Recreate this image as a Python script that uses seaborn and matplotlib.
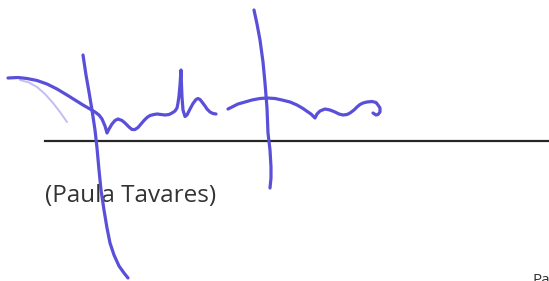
import numpy as np
import pandas as pd
import matplotlib
matplotlib.use("Agg")
import matplotlib.pyplot as plt
import seaborn as sns

# signature strokes, image pixel coordinates (x right, y down)
swoosh_x = [8, 18, 27, 37, 47, 57, 67, 75, 83, 90, 95, 99, 102, 105, 107, 109, 112, 115, 118, 122, 125, 129, 132,
            135, 138, 141, 144, 147, 150, 154, 157, 161, 165, 169, 172, 175, 177, 178, 179, 180, 181,
            181.5, 182, 183, 185, 187, 190, 193, 196, 198, 200, 202, 205, 207, 210, 213, 216]
swoosh_y = [78, 77.5, 78.5, 80.5, 84, 89, 95, 100, 105, 109, 112, 115, 119, 126, 133, 129, 124, 120.5, 119, 120.5,
            123, 127, 129.5, 129.5, 127.5, 124, 120.5, 117.5, 115.5, 114.5, 114, 114.5, 115, 114.5, 113, 111, 108,
            103, 96, 85, 70, 85, 97, 110, 116.5, 115, 109, 103.5, 99.5, 98.5, 99.5, 102, 106, 109, 112, 113.5, 114]

left_bar_x = [83, 86, 89, 92, 95, 97, 99, 101, 104, 107, 110, 114, 119, 124, 128]
left_bar_y = [55, 75, 92, 110, 130, 148, 170, 190, 210, 228, 243, 255, 266, 273, 278]

right_bar_x = [254, 257, 260, 263, 265, 267, 268, 270, 271, 271, 270]
right_bar_y = [10, 24, 40, 62, 83, 108, 133, 150, 167, 178, 188]

tail_x = [228, 233, 238, 245, 252, 260, 267, 275, 282, 290, 297, 303, 308, 311, 313, 315, 317, 320, 325, 330, 335,
          339, 343, 347, 350, 354, 357, 360, 363, 367, 372, 376, 378, 380, 380, 378, 376, 373]
tail_y = [109, 106.5, 104, 102, 100, 98.5, 98, 98.5, 100, 102, 105, 108.5, 112, 114, 116, 118, 114, 111, 109,
          110, 112, 114, 115, 114.5, 113, 110, 107, 104.5, 103, 102, 101.5, 102.5, 105, 108, 112, 114.5, 115, 113]

faint_x = [20, 29, 37, 45, 53, 60, 67]
faint_y = [80, 82.5, 87, 94, 103, 112, 122]

line_x = [45, 549]
line_y = [141, 141]

name_label = "(Paula Tavares)"
corner_label = "Pa"

strokes = pd.concat([
    pd.DataFrame({"x": swoosh_x, "y": swoosh_y, "stroke": "swoosh"}),
    pd.DataFrame({"x": left_bar_x, "y": left_bar_y, "stroke": "left"}),
    pd.DataFrame({"x": right_bar_x, "y": right_bar_y, "stroke": "right"}),
    pd.DataFrame({"x": tail_x, "y": tail_y, "stroke": "tail"}),
], ignore_index=True)

fig = plt.figure(figsize=(5.49, 2.81), dpi=100)
ax = fig.add_axes([0, 0, 1, 1])

# signature line
sns.lineplot(x=line_x, y=line_y, ax=ax, color="#262626", linewidth=1.6, sort=False)

# faint pen stroke
sns.lineplot(x=faint_x, y=faint_y, ax=ax, color="#c2bef2", linewidth=1.4, sort=False,
             solid_capstyle="round", solid_joinstyle="round")

# blue ink
sns.lineplot(data=strokes, x="x", y="y", units="stroke", estimator=None, sort=False, ax=ax,
             color="#5a4fd8", linewidth=2.3, solid_capstyle="round", solid_joinstyle="round")

ax.text(45, 196, name_label, fontsize=17.5, family="Open Sans", color="#333333", va="center", ha="left", zorder=1)
ax.text(533, 273, corner_label, fontsize=11, family="Open Sans", color="#333333", va="top", ha="left")

ax.set_xlim(0, 549)
ax.set_ylim(281, 0)
ax.axis("off")

fig.savefig("out.png", dpi=100)
